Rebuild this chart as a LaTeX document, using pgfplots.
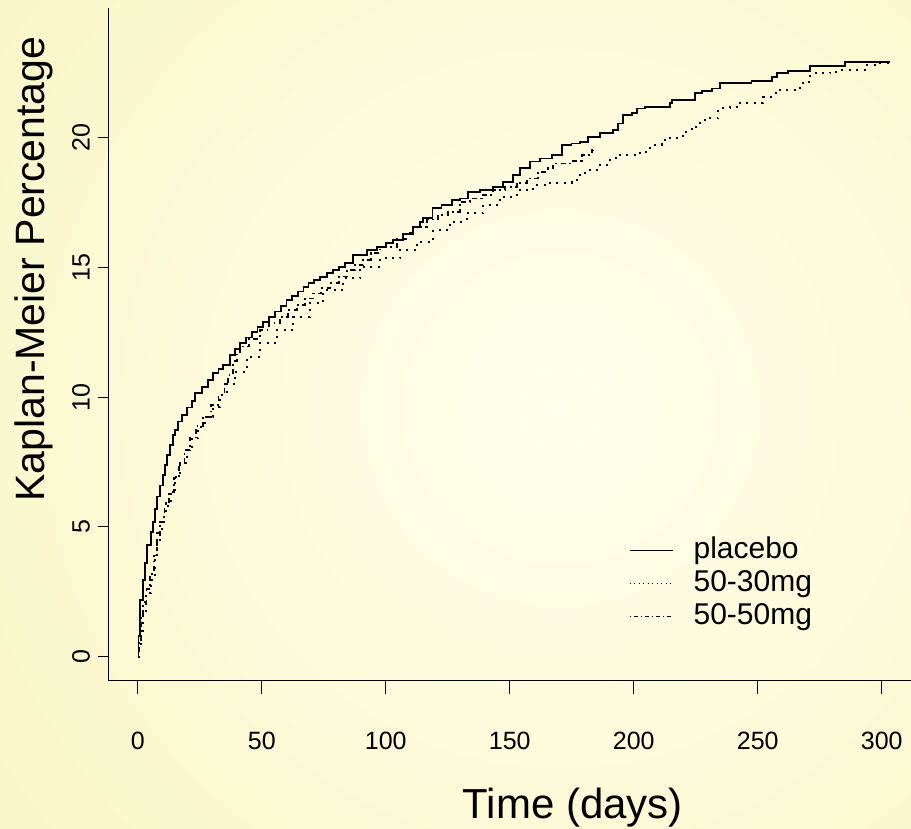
\documentclass[border=0pt]{standalone}
\usepackage{pgfplots}
\pgfplotsset{compat=1.18}
\usepackage{fontspec}
\setmainfont{Liberation Sans}
\definecolor{bgin}{RGB}{255,255,237}
\definecolor{bgout}{RGB}{249,246,198}
\pgfplotstableread{
x y
0 0
0.3 0.8
0.9 2.18
2.0 2.96
2.9 3.6
3.8 4.3
5.2 4.8
6.0 5.2
6.9 5.7
7.9 6.17
9.0 6.6
10.0 7.0
11.0 7.39
11.9 7.77
13.0 8.16
14.1 8.54
15.0 8.74
16.3 9.06
17.7 9.31
19.7 9.6
21.7 9.85
23.1 10.15
25.8 10.4
28.4 10.66
30.4 10.92
32.5 11.08
34.5 11.24
37.2 11.63
39.2 11.85
41.2 12.08
43.5 12.3
45.9 12.52
48.3 12.72
50.6 12.91
53.0 13.1
55.3 13.3
57.7 13.52
60.0 13.75
62.3 13.9
64.7 14.07
66.8 14.24
68.8 14.39
71.2 14.52
73.5 14.64
76.2 14.78
78.8 14.9
81.2 15.03
83.5 15.16
86.9 15.48
92.3 15.67
96.3 15.8
100 15.95
103 16.06
107 16.3
111.1 16.57
113.8 16.76
115.1 16.9
118.8 17.28
122.5 17.41
126.6 17.6
129.9 17.66
133.3 17.92
137.9 17.98
143.3 18.11
147.4 18.3
151.4 18.56
154.1 18.82
158.1 19.08
162.2 19.2
166.9 19.33
170.9 19.72
174.9 19.78
178.3 19.85
181.7 20.04
186.4 20.17
191.7 20.3
193.8 20.55
195.8 20.87
199.2 20.96
201.2 21.13
204.5 21.19
214.6 21.35
215.3 21.45
224.7 21.71
227.4 21.81
231.4 21.9
234.8 22.1
247.5 22.2
255.6 22.33
257.6 22.48
262.3 22.58
271 22.76
285.2 22.93
303.3 22.93
}\placebo
\pgfplotstableread{
x y
0 0
0.6 0.38
1.3 1.0
2.0 1.67
3.3 2.44
5.2 2.96
6.9 3.73
7.9 4.76
9.6 5.4
11.4 5.91
13.3 6.42
15.0 6.94
17.0 7.45
19.7 7.97
21.7 8.42
24.4 8.86
27.1 9.25
30.4 9.63
33.1 10.1
35.8 10.5
39.2 10.98
43.9 11.56
49.3 12.08
56.0 12.59
62.7 13.1
69.4 13.62
74.8 14.13
82.9 14.58
89.6 15.03
97.7 15.35
105.7 15.67
112.5 15.99
119.2 16.44
125.9 16.76
132.6 17.09
139.3 17.41
146 17.73
152.8 17.98
159.5 18.18
164.9 18.27
174.9 18.37
178.3 18.63
182.3 18.76
186.4 18.95
190.4 19.2
194.4 19.33
202.5 19.46
206.5 19.72
211.2 19.85
212.6 20.0
219.9 20.23
223.3 20.42
226.7 20.68
230 20.75
234.1 21.13
238.8 21.19
242.1 21.35
252.2 21.58
256.2 21.71
258.3 21.84
267 22.1
269 22.16
271.2 22.48
279.1 22.55
283.2 22.61
293.9 22.8
299.3 22.87
303.3 22.89
}\mgA
\pgfplotstableread{
x y
0 0
0.4 0.6
1.2 1.5
2.2 2.1
3.5 2.6
5.0 3.2
6.5 3.9
7.6 4.5
9.0 5.2
10.8 5.8
12.6 6.35
14.5 6.9
16.5 7.45
18.8 7.95
21.0 8.45
23.5 8.9
26.4 9.25
29.5 9.7
32.5 10.1
35.0 10.5
36.5 10.86
38.5 11.4
39.9 11.69
41.2 11.95
45 12.25
49.3 12.59
53 12.85
57.3 13.1
60.5 13.35
64.1 13.55
67.5 13.8
70.8 14.0
74 14.2
77.5 14.39
81 14.65
84.2 14.9
87.5 15.1
90.9 15.29
94 15.55
97.7 15.8
104.4 16.1
108 16.35
111.1 16.57
116.5 16.85
121.2 17.02
125.2 17.15
129.9 17.53
133.9 17.66
138.7 17.79
143.3 17.98
148.1 18.11
152.8 18.27
156.8 18.43
161.5 18.69
165.5 18.82
167.5 19.01
174.9 19.11
179 19.33
183 19.53
183.7 19.6
}\mgB
\begin{document}
\begin{tikzpicture}[x=1pt,y=1pt]
\useasboundingbox (0,0) rectangle (911,828);
\begin{scope}
\clip (0,0) rectangle (911,828);
\shade[inner color=bgin, outer color=bgout] (560,420) circle (720);
\end{scope}
\begin{axis}[
  at={(108pt,148pt)}, anchor=south west,
  scale only axis, width=803pt, height=672pt,
  xmin=-12.02, xmax=311.8, ymin=-0.9, ymax=25.0,
  axis x line*=bottom, axis y line*=left,
  axis line style={line width=1pt, -},
  tick align=outside,
  xtick={0,50,...,300}, ytick={0,5,...,20},
  minor tick num=0,
  major tick style={line width=1pt, black},
  xtick style={/pgfplots/major tick length=14pt},
  ytick style={/pgfplots/major tick length=9.5pt},
  tick label style={font=\fontsize{25}{30}\selectfont},
  /pgf/number format/assume math mode=true,
  xticklabel style={anchor=base},
  xticklabel shift=65pt,
  yticklabel style={rotate=90, anchor=base},
  yticklabel shift=14pt,
  xlabel={Time (days)},
  ylabel={Kaplan-Meier Percentage},
  xlabel style={at={(rel axis cs:0.579,-0.2054)}, anchor=base, font=\fontsize{42}{50}\selectfont},
  ylabel style={at={(rel axis cs:-0.0785,0.6116)}, anchor=base, font=\fontsize{41}{50}\selectfont},
  legend style={at={(rel axis cs:0.6488,0.2168)}, anchor=north west, draw=none, fill=none,
    inner sep=0pt, outer sep=0pt, row sep=0pt, font=\fontsize{30}{34}\selectfont,
    nodes={inner sep=0pt}, cells={anchor=base west}},
  legend image code/.code={\path[draw=none,fill=none] (0pt,-9pt) rectangle (64pt,24pt); \draw[#1] (0pt,8pt) -- (43pt,8pt);},
]
\addlegendimage{black, line width=1.2pt}
\addlegendentry{placebo}
\addlegendimage{black, line width=1.2pt, dash pattern=on 1pt off 3.5pt}
\addlegendentry{50-30mg}
\addlegendimage{black, line width=1.2pt, dash pattern=on 1pt off 3pt on 4pt off 3pt}
\addlegendentry{50-50mg}
\addplot[const plot, black, line width=1.8pt, forget plot] table {\placebo};
\addplot[const plot, black, line width=2pt, dash pattern=on 2pt off 5.5pt, forget plot] table {\mgA};
\addplot[const plot, black, line width=1.8pt, dash pattern=on 1.8pt off 3.5pt on 5pt off 3.5pt, forget plot] table {\mgB};
\end{axis}
\end{tikzpicture}
\end{document}
